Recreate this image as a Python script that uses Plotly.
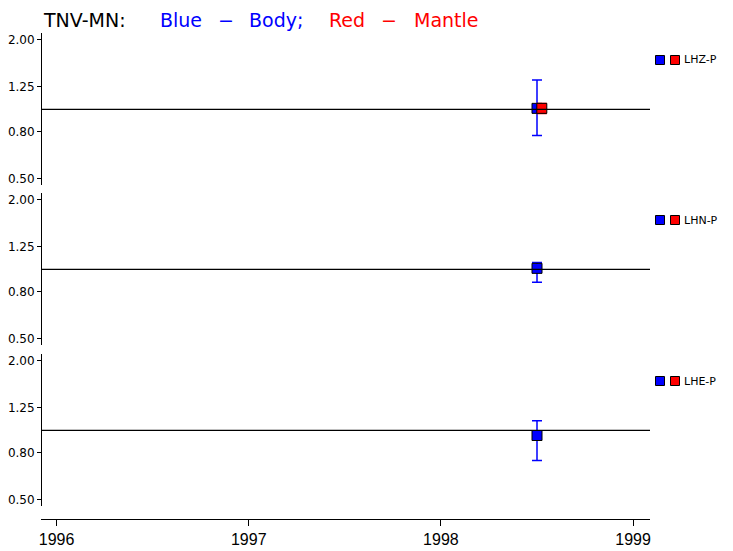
import plotly.graph_objs as go

# components, one panel each
components = ['LHZ-P', 'LHN-P', 'LHE-P']

# body wave estimates (blue)
body_time = [1998.50, 1998.50, 1998.50]
body_value = [1.01, 1.01, 0.95]
body_low = [0.77, 0.88, 0.74]
body_high = [1.34, 1.07, 1.10]

# mantle wave estimates (red), only LHZ has one
mantle_time = [1998.525, None, None]
mantle_value = [1.01, None, None]
mantle_low = [0.96, None, None]
mantle_high = [1.06, None, None]

year_ticks = [1996, 1997, 1998, 1999]
ratio_ticks = [0.50, 0.80, 1.25, 2.00]
ratio_labels = ['0.50', '0.80', '1.25', '2.00']

BLUE = '#0000ff'
RED = '#ff0000'

# page geometry in pixels (the page body adds an 8px offset)
W, H = 733, 551
OFF = 8
L, T = 41 - OFF, 30 - OFF
PW, PH = 609, 489
R = W - L - PW
B = H - T - PH


def xp(px):
    return (px - OFF - L) / PW


def yp(py):
    return (H - B - (py - OFF)) / PH


# panel top/bottom in page pixels
panel_px = [(33, 185), (193, 345), (354, 506)]

fig = go.Figure()

for i, comp in enumerate(components):
    yname = 'y' if i == 0 else f'y{i + 1}'
    fig.add_trace(go.Scatter(
        x=[body_time[i]], y=[body_value[i]],
        xaxis='x', yaxis=yname,
        mode='markers',
        marker=dict(symbol='square', size=10, color=BLUE, line=dict(color='black', width=1)),
        error_y=dict(type='data', symmetric=False,
                     array=[body_high[i] - body_value[i]],
                     arrayminus=[body_value[i] - body_low[i]],
                     color=BLUE, thickness=1.5, width=5),
        showlegend=False,
    ))
    if mantle_value[i] is not None:
        fig.add_trace(go.Scatter(
            x=[mantle_time[i]], y=[mantle_value[i]],
            xaxis='x', yaxis=yname,
            mode='markers',
            marker=dict(symbol='square', size=10, color=RED, line=dict(color='black', width=1)),
            error_y=dict(type='data', symmetric=False,
                         array=[mantle_high[i] - mantle_value[i]],
                         arrayminus=[mantle_value[i] - mantle_low[i]],
                         color=RED, thickness=1.5, width=5),
            showlegend=False,
        ))

    # reference line at ratio 1
    fig.add_shape(type='line', xref='x domain', yref=yname,
                  x0=0, x1=1, y0=1, y1=1,
                  line=dict(color='black', width=1.3))

    # little legend on the right
    top, bot = panel_px[i]
    ly = top + 27
    for cx, col in [(660, BLUE), (675, RED)]:
        fig.add_shape(type='rect', xref='paper', yref='paper',
                      x0=xp(cx - 4.5), x1=xp(cx + 4.5), y0=yp(ly + 4.5), y1=yp(ly - 4.5),
                      fillcolor=col, line=dict(color='black', width=1))
    fig.add_annotation(x=xp(682), y=yp(ly), xref='paper', yref='paper',
                       text=comp, showarrow=False, xanchor='left', yanchor='middle',
                       font=dict(family='DejaVu Sans', size=11, color='black'))

    fig.layout[f'yaxis{"" if i == 0 else i + 1}'] = dict(
        type='log',
        range=[-0.327, 0.33],
        domain=[yp(bot), yp(top)],
        anchor='free', position=0,
        automargin=False,
        tickvals=ratio_ticks, ticktext=ratio_labels,
        ticks='outside', ticklen=4, tickcolor='black',
        showline=True, linecolor='black', linewidth=1,
        showgrid=False, zeroline=False,
        tickfont=dict(family='DejaVu Sans', size=12, color='black'),
    )

# title made of coloured pieces, hung from the top of the figure
title_parts = [('TNV-MN:', 42, 'black'), ('Blue', 159, BLUE), ('\u2212', 217, BLUE),
               ('Body;', 248, BLUE), ('Red', 328, RED), ('\u2212', 380, RED),
               ('Mantle', 413, RED)]
for txt, px, col in title_parts:
    fig.add_annotation(x=xp(px), y=1, xref='paper', yref='paper',
                       yshift=T, borderpad=0,
                       text=txt, showarrow=False, xanchor='left', yanchor='top',
                       font=dict(family='DejaVu Sans', size=19, color=col))

fig.update_layout(
    template='none',
    width=W, height=H,
    margin=dict(l=L, r=R, t=T, b=B, autoexpand=False),
    plot_bgcolor='white',
    paper_bgcolor='white',
    showlegend=False,
    xaxis=dict(
        range=[1995.919, 1999.088],
        anchor='free', position=0,
        automargin=False,
        tickvals=year_ticks, ticktext=[str(y) for y in year_ticks],
        ticks='outside', ticklen=6, tickcolor='black',
        showline=True, linecolor='black', linewidth=1.3,
        showgrid=False, zeroline=False,
        tickfont=dict(family='Liberation Sans', size=16, color='black'),
    ),
)

fig.write_html("out.html")
